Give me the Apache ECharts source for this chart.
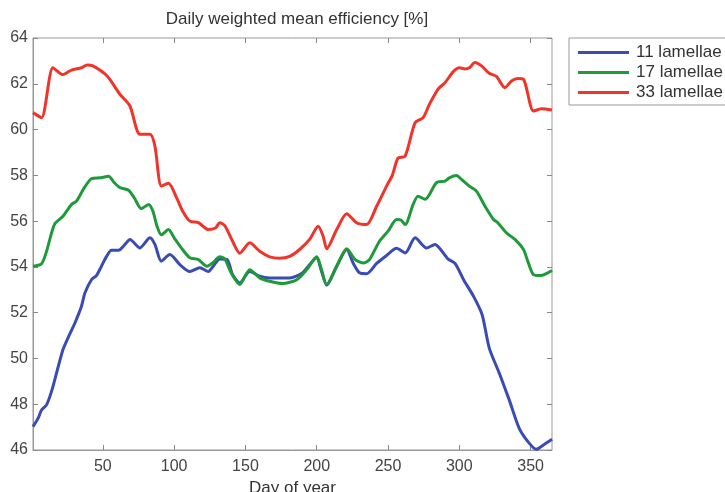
<!DOCTYPE html>
<html>
<head>
<meta charset="utf-8">
<script src="https://cdn.jsdelivr.net/npm/echarts@6/dist/echarts.min.js"></script>
<style>html,body{margin:0;padding:0;background:#fff;}#c{width:725px;height:492px;}</style>
</head>
<body>
<div id="c"></div>
<script>
const seriesNames = ['11 lamellae', '17 lamellae', '33 lamellae'];
const xTicks = [50, 100, 150, 200, 250, 300, 350];

const blueDays = [1, 4.6, 7, 10.5, 14, 17.5, 22, 26, 30.4, 35, 37.4, 42, 45.5, 49, 52.6, 56, 61, 65.5, 69, 76, 83, 86.5, 91, 97, 104, 111, 118, 124, 127.4, 132, 137, 141, 146, 153, 160, 167, 181, 190, 200, 203, 207, 214, 221, 225.5, 230, 235, 242, 249, 256, 262, 269, 277, 283, 286, 292, 297, 303, 310, 316, 321, 328, 335, 342, 349, 354, 359, 365];
const blueVals = [47.02, 47.39, 47.75, 47.97, 48.56, 49.36, 50.38, 50.96, 51.55, 52.28, 52.86, 53.44, 53.62, 54.03, 54.46, 54.73, 54.73, 54.98, 55.2, 54.83, 55.27, 54.98, 54.25, 54.54, 54.1, 53.8, 53.96, 53.8, 54.03, 54.35, 54.33, 53.66, 53.3, 53.8, 53.59, 53.52, 53.52, 53.74, 54.4, 53.88, 53.2, 54.03, 54.76, 54.17, 53.74, 53.7, 54.15, 54.5, 54.81, 54.61, 55.27, 54.83, 54.98, 54.83, 54.35, 54.15, 53.44, 52.71, 51.91, 50.45, 49.36, 48.19, 46.95, 46.3, 46.03, 46.22, 46.47];

const greenDays = [1, 7, 10.5, 16, 22, 28, 31.5, 37, 42, 48, 54, 58, 62, 68, 72, 77, 82, 85, 88, 91, 96, 100, 105, 111, 117, 123, 127, 132, 135.5, 140, 146, 153, 160, 167, 176, 186, 193, 200, 203, 207, 214, 221, 227, 233, 237, 244, 250, 256, 259, 262, 267.6, 271, 276, 284, 290, 293, 298, 301.5, 307, 312, 318, 324, 327, 333, 339, 345, 348, 352, 357, 365];
const greenVals = [54.03, 54.14, 54.68, 55.85, 56.21, 56.73, 56.87, 57.46, 57.85, 57.89, 57.96, 57.68, 57.46, 57.35, 57.02, 56.54, 56.73, 56.45, 55.78, 55.4, 55.63, 55.27, 54.83, 54.4, 54.32, 54.03, 54.17, 54.44, 54.35, 53.74, 53.23, 53.88, 53.52, 53.37, 53.27, 53.44, 53.88, 54.44, 53.96, 53.23, 54.03, 54.79, 54.32, 54.17, 54.32, 55.12, 55.56, 56.07, 56.05, 55.85, 56.73, 57.09, 56.95, 57.68, 57.75, 57.89, 57.99, 57.82, 57.53, 57.31, 56.65, 56.07, 55.93, 55.49, 55.2, 54.76, 54.25, 53.66, 53.62, 53.84];

const redDays = [1, 7, 15, 22, 28, 35, 39, 43, 53, 62, 69, 76, 83, 86.5, 91, 96, 102, 106, 111, 117, 124, 129, 132, 135.5, 141, 146, 153, 160, 167, 174, 181, 188, 195, 201, 204.5, 207, 214, 221, 228, 235, 242, 249, 253, 257, 262, 269, 274.6, 279, 285, 290, 295.6, 300, 304, 307, 311, 315.6, 321, 326, 332, 336.6, 341, 345, 352, 357.6, 365];
const redVals = [60.74, 60.52, 62.7, 62.4, 62.6, 62.7, 62.82, 62.78, 62.34, 61.54, 61.03, 59.79, 59.79, 59.28, 57.53, 57.65, 56.98, 56.43, 56.0, 55.93, 55.63, 55.7, 55.93, 55.8, 55.12, 54.6, 55.05, 54.68, 54.44, 54.38, 54.46, 54.76, 55.2, 55.78, 55.34, 54.79, 55.63, 56.32, 55.93, 55.85, 56.65, 57.53, 58.0, 58.75, 58.84, 60.3, 60.52, 61.1, 61.76, 62.05, 62.52, 62.7, 62.65, 62.7, 62.93, 62.78, 62.46, 62.32, 61.83, 62.12, 62.23, 62.2, 60.81, 60.91, 60.85];

const colors = ['#3a4bb3', '#1e9a3a', '#f0342a'];
const zip = (xs, ys) => xs.map((x, i) => [x, ys[i]]);
const dataSets = [zip(blueDays, blueVals), zip(greenDays, greenVals), zip(redDays, redVals)];

const chart = echarts.init(document.getElementById('c'), null, {renderer: 'canvas'});
const font = 'Liberation Sans, Arial, sans-serif';
const tickStyle = {inside: true, length: 5, lineStyle: {color: '#888'}};
chart.setOption({
  animation: false,
  backgroundColor: '#fff',
  title: {
    text: 'Daily weighted mean efficiency [%]',
    left: 292, top: 6, textAlign: 'center',
    textStyle: {fontFamily: font, fontSize: 17, fontWeight: 'normal', color: '#333'}
  },
  grid: {left: 33, right: 173, top: 38, bottom: 42, show: true, borderColor: '#999', borderWidth: 1,
         containLabel: false, outerBoundsMode: 'none'},
  legend: {
    data: seriesNames,
    orient: 'vertical', left: 569, top: 38,
    padding: [6, 8, 4, 9],
    borderColor: '#999', borderWidth: 1,
    itemWidth: 51, itemHeight: 3, itemGap: 3, icon: 'rect',
    textStyle: {fontFamily: font, fontSize: 17, color: '#333', padding: [0, 0, 0, 2]}
  },
  xAxis: [{
    type: 'value', min: 1, max: 365,
    name: 'Day of year', nameLocation: 'middle', nameGap: 28,
    nameTextStyle: {fontFamily: font, fontSize: 17, color: '#333'},
    axisLine: {show: true, lineStyle: {color: '#999'}},
    axisTick: Object.assign({customValues: xTicks}, tickStyle),
    axisLabel: {customValues: xTicks, fontFamily: font, fontSize: 16, color: '#444', margin: 9},
    splitLine: {show: false}
  }, {
    type: 'value', min: 1, max: 365, position: 'top',
    axisLine: {show: false},
    axisTick: Object.assign({customValues: xTicks}, tickStyle),
    axisLabel: {show: false},
    splitLine: {show: false}
  }],
  yAxis: [{
    type: 'value', min: 46, max: 64, interval: 2,
    axisLine: {show: true, lineStyle: {color: '#999'}},
    axisTick: tickStyle,
    axisLabel: {fontFamily: font, fontSize: 16, color: '#444', margin: 5},
    splitLine: {show: false}
  }, {
    type: 'value', min: 46, max: 64, interval: 2, position: 'right',
    axisLine: {show: false},
    axisTick: tickStyle,
    axisLabel: {show: false},
    splitLine: {show: false}
  }],
  series: seriesNames.map((n, i) => ({
    name: n, type: 'line', data: dataSets[i],
    xAxisIndex: 0, yAxisIndex: 0,
    showSymbol: false, smooth: 0.25,
    lineStyle: {width: 3, color: colors[i]},
    itemStyle: {color: colors[i]}
  }))
});
</script>
</body>
</html>
